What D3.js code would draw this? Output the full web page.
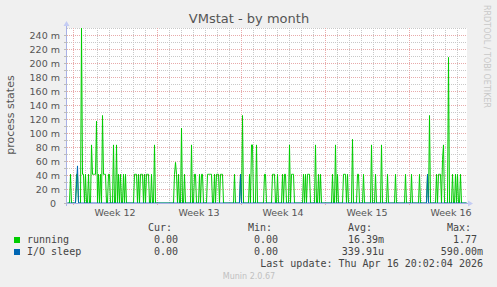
<!DOCTYPE html>
<html lang="en">
<head>
<meta charset="utf-8">
<script src="https://cdnjs.cloudflare.com/ajax/libs/d3/7.8.5/d3.min.js"></script>
<style>
  body { margin: 0; background: #f0f0f0; }
  svg { display: block; font-family: 'DejaVu Sans', sans-serif; }
  .mono { font-family: 'DejaVu Sans Mono', monospace; font-size: 10px; fill: #444; }
</style>
</head>
<body>
<svg width="497" height="287"></svg>
<script>
// values in milli (m), one sample per 2 hours
const running = [
  0,0,0,41,0,0,0,0,0,41,41,0,0,0,250,41,41,0,41,0,
  0,41,0,0,83,41,41,41,41,117,0,41,0,41,0,125,41,41,41,0,
  0,41,41,0,0,0,83,0,0,83,0,41,0,41,0,0,41,0,41,0,
  0,0,0,0,0,0,0,41,41,41,0,41,0,41,41,41,0,41,0,41,
  41,41,0,0,41,0,0,83,0,0,0,0,0,0,0,0,0,0,0,0,
  0,0,0,0,0,0,0,41,58,41,0,41,0,0,107,0,0,41,0,0,
  0,0,0,0,83,0,0,41,41,0,0,0,41,0,41,41,0,0,0,0,
  41,41,41,41,41,0,0,41,0,41,41,41,0,41,41,41,0,0,0,0,
  0,0,0,0,0,0,0,41,0,0,0,0,0,41,0,125,0,0,0,0,
  0,0,41,0,83,83,0,0,0,83,0,0,0,0,0,0,0,41,41,0,
  0,0,0,0,0,41,41,41,0,0,41,0,0,0,0,41,0,41,41,0,
  0,0,83,0,41,41,41,0,0,0,0,0,0,0,0,0,41,0,41,0,
  41,41,41,0,0,0,0,0,83,0,0,41,0,41,0,0,0,0,0,0,
  0,0,0,0,0,41,0,0,83,0,41,0,0,0,0,0,41,41,41,0,
  41,0,0,0,0,91,0,0,0,0,41,41,0,0,0,0,41,0,0,0,
  0,0,0,0,83,0,0,0,41,0,0,0,0,0,83,0,0,0,0,0,
  41,0,0,0,0,0,0,0,41,0,0,0,0,0,0,0,0,0,41,0,
  0,0,0,0,41,0,0,0,0,0,0,0,41,0,0,0,0,0,0,0,
  41,0,125,0,0,0,0,0,0,41,0,41,41,41,0,62,83,0,0,0,
  0,208,0,0,0,41,0,0,41,0,41,0,0,41,0,0,0,0,0,0
]
const ioSleep = [
  0,0,0,0,0,0,0,0,0,26,53,0,0,0,0,0,0,0,0,0,
  0,0,0,0,0,0,0,0,0,0,0,0,0,0,0,0,0,0,0,0,
  0,0,0,0,0,0,0,0,0,0,0,0,0,0,0,0,0,0,0,0,
  0,0,0,0,0,0,0,0,0,0,0,0,0,0,0,0,0,0,0,0,
  0,0,0,0,0,0,0,0,0,0,0,0,0,0,0,0,0,0,0,0,
  0,0,0,0,0,0,0,0,0,0,0,0,0,0,0,0,0,0,0,0,
  0,0,0,0,0,0,0,0,0,0,0,0,0,0,0,0,0,0,0,0,
  0,0,0,0,0,0,0,0,0,0,0,0,0,0,0,0,0,0,0,0,
  0,0,0,0,0,0,0,0,0,0,0,0,0,41,0,0,0,0,0,0,
  0,0,0,0,0,0,0,0,0,0,0,0,0,0,0,0,0,0,0,0,
  0,0,0,0,0,0,0,0,0,0,0,0,0,0,0,0,0,0,0,0,
  0,0,0,0,0,0,0,0,0,0,0,0,0,0,0,0,0,0,0,0,
  0,0,0,0,0,0,0,0,0,0,0,0,0,0,0,0,0,0,0,0,
  0,0,0,0,0,0,0,0,0,0,0,0,0,0,0,0,0,0,0,0,
  0,0,0,0,0,0,0,0,0,0,0,0,0,0,0,0,0,0,0,0,
  0,0,0,0,0,0,0,0,0,0,0,0,0,0,0,0,0,0,0,0,
  0,0,0,0,0,0,0,0,0,0,0,0,0,0,0,0,0,0,0,0,
  0,0,0,0,0,0,0,0,0,0,0,0,0,0,0,0,0,0,0,0,
  41,0,0,0,0,0,0,0,0,0,0,0,0,0,0,0,0,0,0,0,
  0,0,0,0,0,0,0,0,0,0,0,0,0,0,0,0,0,0,0,0
]
const yTicks = [0, 20, 40, 60, 80, 100, 120, 140, 160, 180, 200, 220, 240]
const yMinor = [10, 30, 50, 70, 90, 110, 130, 150, 170, 190, 210, 230, 250]
const weekLabels = ['Week 12', 'Week 13', 'Week 14', 'Week 15', 'Week 16']
const legendNames = ['running', 'I/O sleep']
const legendColors = ['#00cc00', '#0066b3']
const curVals = ['0.00', '0.00']
const minVals = ['0.00', '0.00']
const avgVals = ['16.39m', '339.91u']
const maxVals = ['1.77', '590.00m']
const lastUpdate = 'Last update: Thu Apr 16 20:02:04 2026'

const svg = d3.select('svg')
const pLeft = 67, pRight = 467, pTop = 28, pBottom = 203
const t0 = Date.UTC(2026, 2, 15, 12)
const step = 2 * 3600 * 1000

const x = d3.scaleUtc()
    .domain([new Date(t0), new Date(t0 + 400 * step)])
    .range([pLeft, pRight])
const y = d3.scaleLinear()
    .domain([0, 250])
    .range([pBottom, pTop])

svg.append('rect')
    .attr('x', pLeft).attr('y', pTop)
    .attr('width', pRight - pLeft).attr('height', pBottom - pTop)
    .attr('fill', '#fff')

const grid = svg.append('g').attr('stroke-dasharray', '1,1').attr('stroke-width', 1)

grid.selectAll('.hmin').data(yMinor).enter().append('line')
    .attr('x1', pLeft).attr('x2', pRight)
    .attr('y1', d => Math.round(y(d)) + 0.5).attr('y2', d => Math.round(y(d)) + 0.5)
    .attr('stroke', '#c8c8c8')
grid.selectAll('.hmaj').data(yTicks.slice(1)).enter().append('line')
    .attr('x1', pLeft).attr('x2', pRight)
    .attr('y1', d => Math.round(y(d)) + 0.5).attr('y2', d => Math.round(y(d)) + 0.5)
    .attr('stroke', '#e8aaaa')

const days = d3.utcDay.range(x.domain()[0], x.domain()[1]).filter(d => d.getUTCDay() !== 1)
const weeks = d3.utcMonday.range(x.domain()[0], x.domain()[1])

grid.selectAll('.vmin').data(days).enter().append('line')
    .attr('x1', d => Math.round(x(d)) + 0.5).attr('x2', d => Math.round(x(d)) + 0.5)
    .attr('y1', pTop).attr('y2', pBottom)
    .attr('stroke', '#c8c8c8')
grid.selectAll('.vmaj').data(weeks).enter().append('line')
    .attr('x1', d => Math.round(x(d)) + 0.5).attr('x2', d => Math.round(x(d)) + 0.5)
    .attr('y1', pTop).attr('y2', pBottom + 3)
    .attr('stroke', '#e8aaaa')

svg.append('clipPath').attr('id', 'plot')
    .append('rect').attr('x', pLeft).attr('y', pTop - 1)
    .attr('width', pRight - pLeft + 1).attr('height', pBottom - pTop + 1)

const line = d3.line()
    .x((d, i) => x(new Date(t0 + i * step)) + 0.5)
    .y(d => y(d))

const series = [running, ioSleep]
svg.append('g').attr('clip-path', 'url(#plot)')
    .selectAll('path')
    .data(series)
    .enter()
    .append('path')
    .attr('d', line)
    .attr('fill', 'none')
    .attr('stroke', (d, i) => legendColors[i])
    .attr('stroke-width', 1)

// axes
const axisColor = '#a8b0e6'
svg.append('line')
    .attr('x1', pLeft - 3).attr('x2', pRight + 2)
    .attr('y1', pBottom + 0.5).attr('y2', pBottom + 0.5)
    .attr('stroke', axisColor)
svg.append('line')
    .attr('x1', pLeft - 0.5).attr('x2', pLeft - 0.5)
    .attr('y1', pBottom + 3).attr('y2', pTop - 3)
    .attr('stroke', axisColor)
svg.append('path')
    .attr('d', `M${pRight + 1},${pBottom - 2.5}L${pRight + 6},${pBottom + 0.5}L${pRight + 1},${pBottom + 3.5}Z`)
    .attr('fill', '#c4ccf4')
svg.append('path')
    .attr('d', `M${pLeft - 3.5},${pTop - 2}L${pLeft - 0.5},${pTop - 7}L${pLeft + 2.5},${pTop - 2}Z`)
    .attr('fill', '#c4ccf4')

svg.selectAll('.ytick').data(yTicks.concat(yMinor.slice(0, -1))).enter().append('line')
    .attr('x1', pLeft - 3).attr('x2', pLeft)
    .attr('y1', d => Math.round(y(d)) + 0.5).attr('y2', d => Math.round(y(d)) + 0.5)
    .attr('stroke', '#bbb')

svg.selectAll('.ylab').data(yTicks).enter().append('text')
    .attr('x', d => d === 0 ? 56 : 60)
    .attr('y', d => y(d) + 3.5)
    .attr('text-anchor', 'end')
    .attr('font-size', 9.5)
    .attr('fill', '#555')
    .text(d => d === 0 ? '0' : d + ' m')

svg.selectAll('.xlab').data(weeks).enter().append('text')
    .attr('x', d => x(new Date(+d + 3.5 * 864e5)))
    .attr('y', 216)
    .attr('text-anchor', 'middle')
    .attr('font-size', 9.5)
    .attr('fill', '#555')
    .text((d, i) => weekLabels[i])

svg.append('text')
    .attr('x', 249).attr('y', 22.5)
    .attr('text-anchor', 'middle')
    .attr('font-size', 13)
    .attr('fill', '#555')
    .text('VMstat - by month')

svg.append('text')
    .attr('transform', 'translate(13.5,115) rotate(-90)')
    .attr('text-anchor', 'middle')
    .attr('font-size', 11)
    .attr('fill', '#555')
    .text('process states')

svg.append('text')
    .attr('transform', 'translate(484,5) rotate(90)')
    .attr('font-size', 8)
    .attr('fill', '#c8c8c8')
    .text('RRDTOOL / TOBI OETIKER')

// legend
const cols = [184, 284, 384, 483]
const heads = ['Cur:', 'Min:', 'Avg:', 'Max:']
svg.selectAll('.head').data(heads).enter().append('text')
    .attr('class', 'mono')
    .attr('x', (d, i) => cols[i] - 12)
    .attr('y', 231)
    .attr('text-anchor', 'end')
    .text(d => d)

legendNames.forEach((name, r) => {
    const yy = 243 + r * 12
    svg.append('rect')
        .attr('x', 14).attr('y', yy - 6)
        .attr('width', 6).attr('height', 6)
        .attr('fill', legendColors[r])
    svg.append('text').attr('class', 'mono')
        .attr('x', 27).attr('y', yy)
        .text(name)
    const vals = [curVals[r], minVals[r], avgVals[r], maxVals[r]]
    vals.forEach((v, c) => {
        const unit = /[0-9]$/.test(v) ? 6 : 0
        svg.append('text').attr('class', 'mono')
            .attr('x', cols[c] - unit).attr('y', yy)
            .attr('text-anchor', 'end')
            .text(v)
    })
})

svg.append('text').attr('class', 'mono')
    .attr('x', 483).attr('y', 267)
    .attr('text-anchor', 'end')
    .text(lastUpdate)

svg.append('text')
    .attr('x', 249).attr('y', 279)
    .attr('text-anchor', 'middle')
    .attr('font-size', 8)
    .attr('fill', '#c0c0c0')
    .text('Munin 2.0.67')
</script>
</body>
</html>
